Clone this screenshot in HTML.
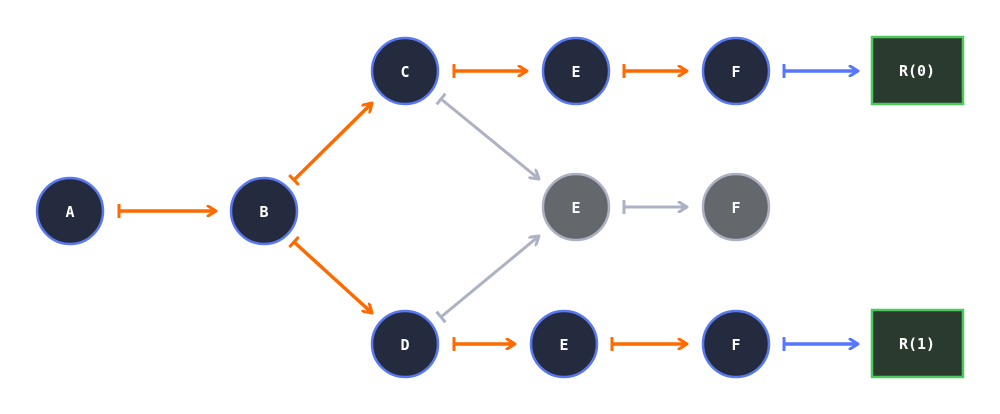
<!DOCTYPE html>
<html><head><meta charset="utf-8"><style>
html,body{margin:0;padding:0;background:#fff;}
svg{display:block;}
text{font-family:"DejaVu Sans Mono","Liberation Mono",monospace;font-size:15px;font-weight:bold;fill:#fff;text-anchor:middle;dominant-baseline:central;}
</style></head><body>
<svg width="1000" height="414" viewBox="0 0 1000 414" xmlns="http://www.w3.org/2000/svg">
<defs>
<marker id="ao" viewBox="0 0 12 12" refX="10" refY="6" markerWidth="12" markerHeight="12" markerUnits="userSpaceOnUse" orient="auto"><path d="M2,1 L10,6 L2,11" fill="none" stroke="#ff6a00" stroke-width="3" stroke-linecap="round" stroke-linejoin="round"/></marker>
<marker id="to" viewBox="0 0 12 14" refX="2" refY="7" markerWidth="12" markerHeight="14" markerUnits="userSpaceOnUse" orient="auto"><path d="M2,1 L2,13" stroke="#ff6a00" stroke-width="3" stroke-linecap="round"/></marker>
<marker id="ag" viewBox="0 0 12 12" refX="10" refY="6" markerWidth="12" markerHeight="12" markerUnits="userSpaceOnUse" orient="auto"><path d="M2,1 L10,6 L2,11" fill="none" stroke="#adb1c4" stroke-width="3" stroke-linecap="round" stroke-linejoin="round"/></marker>
<marker id="tg" viewBox="0 0 12 14" refX="2" refY="7" markerWidth="12" markerHeight="14" markerUnits="userSpaceOnUse" orient="auto"><path d="M2,1 L2,13" stroke="#adb1c4" stroke-width="3" stroke-linecap="round"/></marker>
<marker id="ab" viewBox="0 0 12 12" refX="10" refY="6" markerWidth="12" markerHeight="12" markerUnits="userSpaceOnUse" orient="auto"><path d="M2,1 L10,6 L2,11" fill="none" stroke="#5577ff" stroke-width="3" stroke-linecap="round" stroke-linejoin="round"/></marker>
<marker id="tb" viewBox="0 0 12 14" refX="2" refY="7" markerWidth="12" markerHeight="14" markerUnits="userSpaceOnUse" orient="auto"><path d="M2,1 L2,13" stroke="#5577ff" stroke-width="3" stroke-linecap="round"/></marker>
</defs>
<g stroke-width="3.5" fill="none">
<g stroke="#ff6a00" marker-start="url(#to)" marker-end="url(#ao)">
<line x1="119" y1="211" x2="216" y2="211"/>
<line x1="294" y1="180" x2="372" y2="103"/>
<line x1="294" y1="242" x2="372" y2="313"/>
<line x1="454" y1="71" x2="527" y2="71"/>
<line x1="624" y1="71" x2="687" y2="71"/>
<line x1="454" y1="344" x2="515" y2="344"/>
<line x1="612" y1="344" x2="687" y2="344"/>
</g>
<g stroke="#adb1c4" stroke-width="3" marker-start="url(#tg)" marker-end="url(#ag)">
<line x1="441" y1="99" x2="539" y2="179"/>
<line x1="441" y1="317" x2="539" y2="236"/>
<line x1="624" y1="207" x2="687" y2="207"/>
</g>
<g stroke="#5577ff" marker-start="url(#tb)" marker-end="url(#ab)">
<line x1="784" y1="71" x2="858" y2="71"/>
<line x1="784" y1="344" x2="858" y2="344"/>
</g>
</g>
<g fill="#252b3e" stroke="#5a78f0" stroke-width="2.5">
<circle cx="70" cy="211" r="33"/>
<circle cx="264" cy="211" r="33"/>
<circle cx="405" cy="71" r="33"/>
<circle cx="576" cy="71" r="33"/>
<circle cx="736" cy="71" r="33"/>
<circle cx="405" cy="344" r="33"/>
<circle cx="564" cy="344" r="33"/>
<circle cx="736" cy="344" r="33"/>
</g>
<g fill="#64676c" stroke="#aeb1c4" stroke-width="2.5">
<circle cx="576" cy="207" r="33"/>
<circle cx="736" cy="207" r="33"/>
</g>
<g fill="#2b3a2f" stroke="#4cc95a" stroke-width="2.5">
<rect x="872" y="37" width="91" height="67"/>
<rect x="872" y="310" width="91" height="67"/>
</g>
<text x="70" y="212">A</text>
<text x="264" y="212">B</text>
<text x="405" y="72">C</text>
<text x="576" y="72">E</text>
<text x="736" y="72">F</text>
<text x="576" y="208">E</text>
<text x="736" y="208">F</text>
<text x="405" y="345">D</text>
<text x="564" y="345">E</text>
<text x="736" y="345">F</text>
<text x="917" y="71">R(0)</text>
<text x="917" y="344">R(1)</text>
</svg>
</body></html>
